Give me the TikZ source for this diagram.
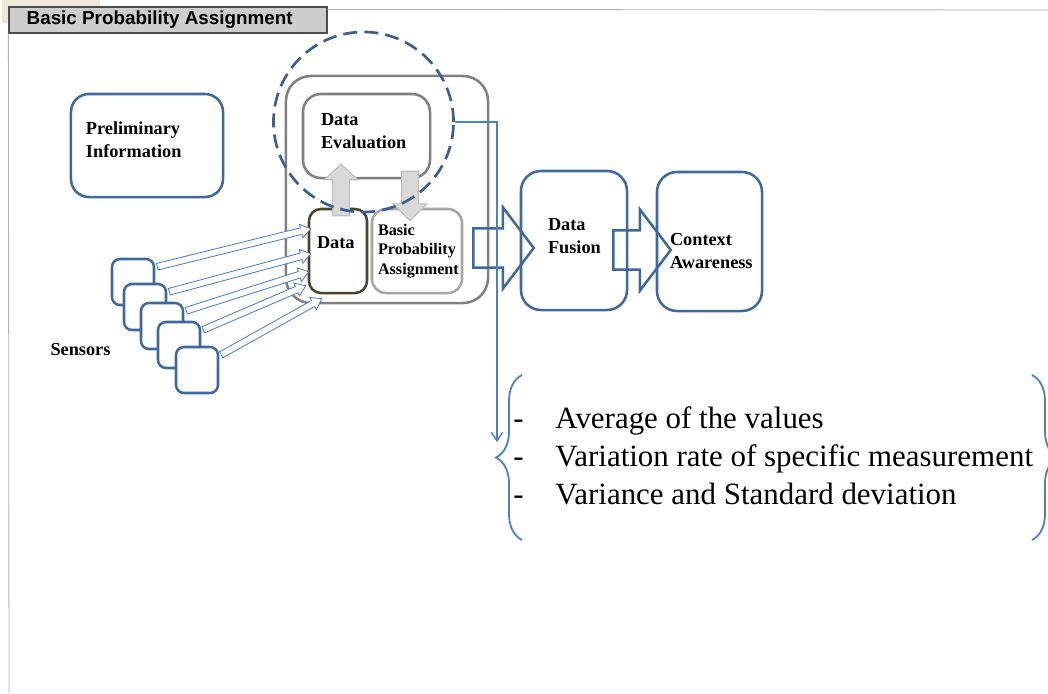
\documentclass[tikz,border=0pt]{standalone}
\usepackage{fontspec}
\setmainfont{Liberation Serif}
\newfontfamily\tabfont{Liberation Sans}
\usetikzlibrary{positioning, calc, arrows.meta, decorations.pathreplacing}
\definecolor{boxblue}{HTML}{41689E}
\definecolor{lineblue}{HTML}{4F81BD}
\definecolor{ringblue}{HTML}{3B6090}
\definecolor{dataedge}{HTML}{4B452B}
\definecolor{tabgray}{HTML}{CDCDCD}
\definecolor{tabbeige}{HTML}{EEE8D8}

% hollow block arrow: style, tail, tip, half shaft, half head, head length
\newcommand{\blockarrow}[6]{%
  \coordinate (hb) at ($(#3)!#6!(#2)$);
  \draw[#1] ($(#2)!#4!90:(#3)$) -- ($(hb)!#4!90:(#3)$) -- ($(hb)!#5!90:(#3)$)
    -- (#3) -- ($(hb)!#5!-90:(#3)$) -- ($(hb)!#4!-90:(#3)$)
    -- ($(#2)!#4!-90:(#3)$) -- cycle;}

\begin{document}
\begin{tikzpicture}[
      x=0.025cm, y=-0.025cm,
      frame/.style={draw=gray!60, line width=0.6pt},
      tabbox/.style={draw=black!70, fill=tabgray, line width=0.8pt, inner sep=0pt,
        minimum width=7.95cm, minimum height=0.65cm},
      tabtxt/.style={font=\tabfont\bfseries\fontsize{13.4pt}{16pt}\selectfont, inner sep=0pt},
      box/.style={draw=boxblue, line width=1.8pt, fill=white, inner sep=0pt,
        rounded corners=0.45cm},
      graybox/.style={draw=gray, line width=1.8pt, fill=white, inner sep=0pt,
        rounded corners=0.45cm},
      sensor/.style={draw=boxblue, line width=1.8pt, fill=white, inner sep=0pt,
        rounded corners=0.2cm, minimum width=1.05cm, minimum height=1.15cm},
      lbl/.style={font=\fontsize{13pt}{16.4pt}\selectfont\bfseries, align=left,
        inner sep=0pt},
      sarrow/.style={draw=lineblue, line width=0.6pt, fill=white},
      garrow/.style={draw=gray!50, fill=gray!30, line width=0.8pt},
      bigarrow/.style={draw=boxblue, line width=1.8pt},
      ring/.style={circle, draw=ringblue, line width=1.9pt,
        dash pattern=on 10pt off 5pt, minimum size=4.5cm, inner sep=0pt},
      callout/.style={draw=lineblue, line width=1pt,
        -{Straight Barb[length=6pt,width=8pt]}},
      bracket/.style={draw=lineblue, line width=1.3pt, decorate,
        decoration={brace, amplitude=0.65cm}},
      ]
      \useasboundingbox (0,0) rectangle (1048,693);
      % window tab and frame
      \fill[tabbeige] (2,0) rectangle (100,23);
      \node[tabbox] (tab) at (168,20) {};
      \node[tabtxt, anchor=west] (tabtext) at ($(tab.west)+(18,0)$) {Basic Probability Assignment};
      \draw[frame] (tab.south west) -- (9,693);
      \draw[frame] ($(tab.north east)+(0,3)$) -- (1048,10);
      % boxes
      \node[box, minimum width=3.8cm, minimum height=2.575cm] (prelim) at (147,145.5) {};
      \node[lbl, anchor=west] (prelimtext) at ($(prelim.west)+(16,-5.5)$) {Preliminary\\Information};
      \node[graybox, rounded corners=0.625cm, minimum width=5.05cm, minimum height=5.675cm] (group) at (387,189.5) {};
      \node[graybox, minimum width=3.175cm, minimum height=2.1cm] (deval) at (366.5,136) {};
      \node[lbl, anchor=west] (devaltext) at ($(deval.west)+(19,-5)$) {Data\\Evaluation};
      \node[graybox, draw=dataedge, rounded corners=0.3cm, minimum width=1.45cm, minimum height=2.1cm] (data) at (338,251) {};
      \node[lbl, anchor=west] (datatext) at ($(data.west)+(9,-8)$) {Data};
      \node[graybox, draw=gray!70, rounded corners=0.35cm, minimum width=2.25cm, minimum height=2.1cm] (bpa) at (417,251) {};
      \node[lbl, anchor=west, font=\fontsize{11.5pt}{14pt}\selectfont\bfseries] (bpatext) at ($(bpa.west)+(7,0)$) {Basic\\Probability\\Assignment};
      % sensors
      \node[sensor] (s1) at (133,282) {};
      \node[sensor] (s2) at (145,307) {};
      \node[sensor] (s3) at (162,326) {};
      \node[sensor] (s4) at (179,345) {};
      \node[sensor] (s5) at (197,370) {};
      \node[lbl, anchor=east] (senstext) at ($(s4.west)+(-46,5)$) {Sensors};
      \foreach \i/\dx/\dy in {1/3/21, 2/3/46, 3/1/64, 4/-2/78, 5/14/91} {
        \coordinate (tail\i) at ($(s\i.north east)+(2,9)$);
        \coordinate (tip\i) at ($(data.north west)+(\dx,\dy)$);
        \blockarrow{sarrow}{tail\i}{tip\i}{2.4pt}{5pt}{7pt}
      }
      % evaluation loop
      \coordinate (up1) at ($(data.north)+(3,8)$);
      \coordinate (up2) at ($(deval.south)+(-25.5,-15)$);
      \coordinate (dn1) at ($(deval.south)+(43.5,-8)$);
      \coordinate (dn2) at ($(bpa.north)+(-7,13)$);
      \blockarrow{garrow}{up1}{up2}{6pt}{12pt}{11pt}
      \blockarrow{garrow}{dn1}{dn2}{6pt}{12pt}{12pt}
      \node[ring] (ring) at (363.5,122) {};
      % fusion chain
      \node[box, rounded corners=0.5cm, minimum width=2.65cm, minimum height=3.475cm] (fusion) at (574,240.5) {};
      \node[lbl, anchor=west] (fusiontext) at ($(fusion.west)+(28,-4.5)$) {Data\\Fusion};
      \node[box, rounded corners=0.5cm, minimum width=2.625cm, minimum height=3.475cm] (context) at (709.5,241.5) {};
      \node[lbl, anchor=west] (contexttext) at ($(context.west)+(14,9.5)$) {Context\\Awareness};
      \coordinate (f1) at ($(bpa.east)+(10,-3)$);
      \coordinate (f2) at ($(fusion.west)+(14,7.5)$);
      \coordinate (c1) at ($(fusion.east)+(-15,9.5)$);
      \coordinate (c2) at ($(context.west)+(15,8.5)$);
      \blockarrow{bigarrow}{f1}{f2}{14pt}{29pt}{22pt}
      \blockarrow{bigarrow}{c1}{c2}{14pt}{29pt}{22pt}
      % criteria list
      \coordinate (calltip) at (497,442);
      \draw[callout] (ring.east) -| (calltip);
      \coordinate (lbtop) at (522,375);
      \coordinate (lbbot) at (522,540);
      \coordinate (rbtop) at (1032,375);
      \coordinate (rbbot) at (1032,540);
      \draw[bracket] (lbbot) -- (lbtop);
      \draw[bracket] (rbtop) -- (rbbot);
      \node[anchor=west, align=left, inner sep=0pt, font=\fontsize{22pt}{27pt}\selectfont] (crit) at (513,456)
        {\makebox[30pt][l]{-}Average of the values\\
         \makebox[30pt][l]{-}Variation rate of specific measurement\\
         \makebox[30pt][l]{-}Variance and Standard deviation};
    \end{tikzpicture}
\end{document}
